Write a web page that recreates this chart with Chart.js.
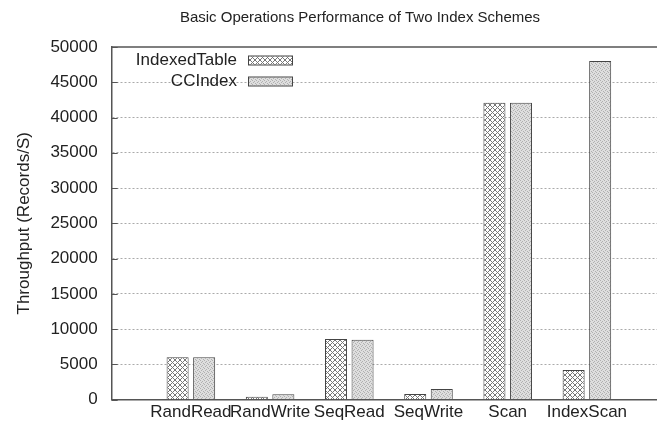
<!DOCTYPE html>
<html>
<head>
<meta charset="utf-8">
<script src="https://cdn.jsdelivr.net/npm/chart.js@4"></script>
<style>
  html, body { margin: 0; padding: 0; background: #fff; overflow: hidden; }
  #wrap { width: 657px; height: 427px; }
</style>
</head>
<body>
<div id="wrap"><canvas id="opsChart"></canvas></div>
<script>
// data
const operations = ['RandRead', 'RandWrite', 'SeqRead', 'SeqWrite', 'Scan', 'IndexScan'];
const indexedTable = [6000, 400, 8600, 800, 42100, 4200];
const ccIndex = [6000, 750, 8500, 1500, 42100, 48000];
const yTicks = [0, 5000, 10000, 15000, 20000, 25000, 30000, 35000, 40000, 45000, 50000];

const FONT = '"Liberation Sans", Arial, sans-serif';

// fill patterns like the gnuplot ones
function makePattern(draw, size) {
    const c = document.createElement('canvas');
    c.width = size; c.height = size;
    const g = c.getContext('2d');
    draw(g, size);
    return g.createPattern(c, 'repeat');
}
const crossHatch = makePattern(function(g, s) {
    g.fillStyle = '#fff';
    g.fillRect(0, 0, s, s);
    g.strokeStyle = '#777';
    g.lineWidth = 1;
    g.beginPath();
    g.moveTo(0, 0); g.lineTo(s, s);
    g.moveTo(s, 0); g.lineTo(0, s);
    g.stroke();
}, 5);
const stipple = makePattern(function(g, s) {
    g.fillStyle = '#dedede';
    g.fillRect(0, 0, s, s);
    g.fillStyle = '#b0b0b0';
    [[0, 0], [2, 1], [1, 2], [3, 3]].forEach(function(p) {
        g.fillRect(p[0], p[1], 1, 1);
    });
}, 4);

const seriesNames = ['IndexedTable', 'CCIndex'];
const seriesFills = [crossHatch, stipple];

// title, top frame line, inward ticks and legend inside the plot
const decorations = {
    id: 'decorations',
    afterDraw(chart) {
        const ctx = chart.ctx;
        const area = chart.chartArea;
        const y = chart.scales.y;
        ctx.save();
        ctx.strokeStyle = '#555';
        ctx.lineWidth = 1.5;
        ctx.beginPath();
        ctx.moveTo(area.left, area.top);
        ctx.lineTo(area.right, area.top);
        ctx.stroke();
        ctx.lineWidth = 1;
        yTicks.forEach(function(v) {
            const py = Math.round(y.getPixelForValue(v)) + 0.5;
            ctx.beginPath();
            ctx.moveTo(area.left, py);
            ctx.lineTo(area.left + 6, py);
            ctx.stroke();
        });

        ctx.fillStyle = '#222';
        ctx.font = '15px ' + FONT;
        ctx.textAlign = 'center';
        ctx.textBaseline = 'middle';
        ctx.fillText('Basic Operations Performance of Two Index Schemes', 360, 18);

        ctx.font = '17px ' + FONT;
        ctx.textAlign = 'right';
        seriesNames.forEach(function(name, i) {
            const ly = 60.5 + i * 21;
            ctx.fillStyle = '#222';
            ctx.fillText(name, 237, ly);
            ctx.fillStyle = seriesFills[i];
            ctx.fillRect(248, ly - 4, 44, 8);
            ctx.strokeStyle = '#444';
            ctx.strokeRect(248.5, ly - 4.5, 44, 9);
        });
        ctx.restore();
    }
};

const ctx = document.getElementById('opsChart').getContext('2d');
const opsChart = new Chart(ctx, {
    type: 'bar',
    data: {
        datasets: [{
            label: seriesNames[0],
            data: indexedTable.map((v, i) => ({x: i, y: v})),
            backgroundColor: crossHatch,
            borderColor: '#444',
            borderWidth: 1
        }, {
            label: seriesNames[1],
            data: ccIndex.map((v, i) => ({x: i, y: v})),
            backgroundColor: stipple,
            borderColor: '#444',
            borderWidth: 1
        }]
    },
    options: {
        responsive: true,
        maintainAspectRatio: false,
        animation: false,
        categoryPercentage: 0.67,
        barPercentage: 0.83,
        layout: { padding: { top: 47, right: 0, left: 6, bottom: 1 } },
        scales: {
            x: {
                type: 'linear',
                offset: false,
                min: -1,
                max: 5.885,
                afterBuildTicks(scale) {
                    scale.ticks = operations.map((c, i) => ({value: i}));
                },
                ticks: {
                    autoSkip: false,
                    maxRotation: 0,
                    padding: 3,
                    color: '#222',
                    font: { family: FONT, size: 17 },
                    callback: (v) => operations[v] ?? ''
                },
                grid: { display: false, drawTicks: false },
                border: { display: true, color: '#555', width: 1.5 }
            },
            y: {
                min: 0,
                max: 50000,
                afterBuildTicks(scale) {
                    scale.ticks = yTicks.map(v => ({value: v}));
                },
                ticks: {
                    padding: 14,
                    color: '#222',
                    font: { family: FONT, size: 17 },
                    callback: (v) => String(v)
                },
                grid: {
                    drawTicks: false,
                    color: (c) => (c.tick && (c.tick.value === 0 || c.tick.value === 50000)) ? 'rgba(0,0,0,0)' : '#aaa',
                    lineWidth: 1
                },
                border: {
                    display: true,
                    color: '#555',
                    width: 1.5,
                    dash: [2, 2]
                },
                title: {
                    display: true,
                    text: 'Throughput (Records/S)',
                    color: '#222',
                    font: { family: FONT, size: 17 },
                    padding: { top: 8, bottom: 2 }
                }
            }
        },
        plugins: {
            legend: { display: false },
            tooltip: { enabled: false }
        }
    },
    plugins: [decorations]
});
</script>
</body>
</html>
